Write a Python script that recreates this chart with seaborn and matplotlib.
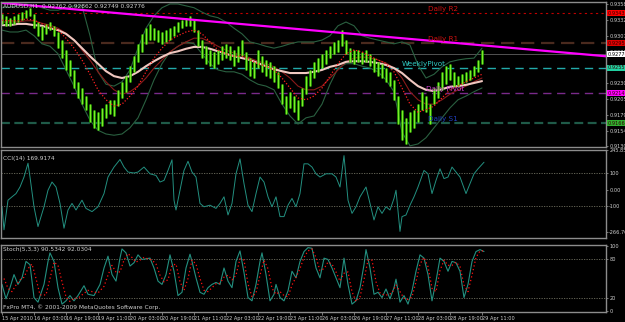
import numpy as np
import pandas as pd
import seaborn as sns
import matplotlib
matplotlib.use("Agg")
import matplotlib.pyplot as plt

# ---------------- data ----------------
header = "AUDUSD,H1  0.92762 0.92862 0.92749 0.92776"
cci_title = "CCI(14) 169.9174"
stoch_title = "Stoch(5,3,3) 90.5342 92.0304"
copyright_txt = "FxPro MT4, \u00a9 2001-2009 MetaQuotes Software Corp."

date_labels = ["15 Apr 2010", "16 Apr 03:00", "16 Apr 19:00", "19 Apr 11:00", "20 Apr 03:00",
               "20 Apr 19:00", "21 Apr 11:00", "22 Apr 03:00", "22 Apr 19:00", "23 Apr 11:00",
               "26 Apr 03:00", "26 Apr 19:00", "27 Apr 11:00", "28 Apr 03:00", "28 Apr 19:00",
               "29 Apr 11:00"]

# price bars sampled every 2 hourly bars (bar 0..240)
price_high = [.9342, .9339, .9336, .9339, .9342, .9345, .9348, .9352, .9342, .9329,
              .9323, .9326, .9329, .9323, .9313, .9300, .9284, .9268, .9252, .9233,
              .9223, .9210, .9197, .9188, .9184, .9191, .9197, .9204, .9204, .9220,
              .9233, .9242, .9258, .9274, .9294, .9310, .9319, .9326, .9319, .9316,
              .9313, .9316, .9319, .9323, .9329, .9332, .9336, .9339, .9332, .9316,
              .9300, .9290, .9284, .9281, .9284, .9290, .9294, .9290, .9284, .9290,
              .9300, .9281, .9271, .9265, .9284, .9274, .9268, .9265, .9258, .9249,
              .9229, .9210, .9217, .9210, .9204, .9223, .9242, .9252, .9265, .9271,
              .9278, .9284, .9290, .9297, .9300, .9316, .9300, .9287, .9284, .9284,
              .9281, .9284, .9278, .9271, .9265, .9262, .9255, .9249, .9236, .9210,
              .9188, .9175, .9184, .9188, .9197, .9217, .9210, .9197, .9223, .9233,
              .9249, .9258, .9262, .9249, .9242, .9245, .9249, .9252, .9258, .9268,
              .9284]
price_low = [.9326, .9323, .9323, .9326, .9329, .9332, .9336, .9339, .9319, .9307,
             .9300, .9310, .9316, .9307, .9287, .9271, .9252, .9242, .9223, .9207,
             .9197, .9188, .9168, .9159, .9155, .9162, .9175, .9181, .9178, .9194,
             .9207, .9217, .9233, .9249, .9265, .9281, .9294, .9300, .9300, .9297,
             .9294, .9297, .9300, .9307, .9313, .9319, .9323, .9323, .9313, .9290,
             .9271, .9262, .9258, .9255, .9262, .9268, .9271, .9268, .9258, .9265,
             .9274, .9252, .9242, .9239, .9255, .9249, .9242, .9239, .9233, .9223,
             .9197, .9181, .9191, .9184, .9171, .9194, .9213, .9226, .9239, .9249,
             .9255, .9262, .9271, .9278, .9281, .9290, .9278, .9265, .9262, .9265,
             .9262, .9265, .9258, .9249, .9242, .9239, .9233, .9226, .9204, .9165,
             .9139, .9133, .9152, .9159, .9168, .9188, .9184, .9165, .9197, .9207,
             .9220, .9229, .9236, .9226, .9226, .9229, .9233, .9236, .9242, .9249,
             .9262]

# indicator lines sampled every 4 bars (bar 0..240)
ma_slow = [.9324, .9324, .9326, .9326, .9324, .9323, .9319, .9316, .9310, .9300,
           .9287, .9274, .9262, .9250, .9242, .9239, .9242, .9249, .9258, .9266,
           .9273, .9279, .9282, .9286, .9289, .9289, .9286, .9282, .9278, .9274,
           .9271, .9268, .9263, .9258, .9253, .9250, .9247, .9247, .9247, .9249,
           .9252, .9257, .9260, .9265, .9266, .9266, .9265, .9263, .9260, .9255,
           .9247, .9236, .9226, .9220, .9218, .9221, .9225, .9226, .9228, .9231,
           .9234]
ma_fast = [.9332, .9331, .9331, .9334, .9332, .9326, .9321, .9316, .9303, .9287,
           .9268, .9245, .9220, .9204, .9194, .9197, .9210, .9226, .9249, .9271,
           .9287, .9300, .9307, .9313, .9316, .9310, .9297, .9284, .9278, .9274,
           .9274, .9268, .9262, .9258, .9252, .9239, .9223, .9207, .9204, .9210,
           .9223, .9242, .9262, .9278, .9284, .9281, .9274, .9268, .9262, .9249,
           .9223, .9197, .9184, .9188, .9194, .9207, .9220, .9226, .9233, .9239,
           .9245]
ma_mid = [.9329, .9329, .9329, .9331, .9331, .9327, .9324, .9319, .9311, .9300,
          .9284, .9268, .9249, .9233, .9220, .9213, .9217, .9226, .9239, .9255,
          .9268, .9281, .9290, .9297, .9303, .9303, .9297, .9290, .9284, .9279,
          .9276, .9271, .9266, .9262, .9257, .9249, .9239, .9226, .9220, .9220,
          .9226, .9239, .9252, .9265, .9271, .9273, .9271, .9268, .9263, .9255,
          .9239, .9217, .9204, .9197, .9197, .9204, .9213, .9220, .9226, .9233,
          .9239]
band_upper = [.9352, .9353, .9355, .9358, .9356, .9352, .9348, .9348, .9352, .9355,
              .9355, .9307, .9249, .9229, .9226, .9233, .9252, .9287, .9319, .9339,
              .9352, .9358, .9358, .9355, .9352, .9345, .9339, .9336, .9329, .9319,
              .9310, .9297, .9294, .9290, .9287, .9290, .9294, .9297, .9297, .9297,
              .9300, .9307, .9323, .9329, .9323, .9307, .9303, .9300, .9297, .9294,
              .9297, .9292, .9260, .9239, .9245, .9257, .9265, .9268, .9270, .9271,
              .9287]
band_lower = [.9316, .9313, .9313, .9316, .9307, .9294, .9290, .9278, .9252, .9226,
              .9197, .9171, .9155, .9149, .9147, .9149, .9159, .9175, .9204, .9236,
              .9262, .9281, .9290, .9297, .9294, .9278, .9262, .9252, .9249, .9249,
              .9245, .9236, .9229, .9226, .9220, .9197, .9178, .9165, .9175, .9178,
              .9197, .9229, .9255, .9262, .9262, .9258, .9255, .9249, .9236, .9217,
              .9152, .9130, .9133, .9143, .9159, .9175, .9191, .9204, .9210, .9217,
              .9223]

trend_bars = [-1, 302]
trend_price = [0.9360, 0.9274]

level_names = ["Daily R2", "Daily R1", "WeeklyPivot", "Daily Pivot", "Daily S1"]
level_values = [0.93435, 0.92952, 0.92551, 0.92149, 0.91666]
last_price = 0.92776

price_ticks = [0.93580, 0.93325, 0.93070, 0.92815, 0.92560, 0.92305, 0.92050, 0.91795, 0.91540, 0.91300]

cci_bars = [0, 1, 3, 5, 7, 9, 11, 13, 14, 16, 18, 21, 23, 25, 27, 29, 31, 33, 35, 37, 40, 42, 45, 48,
            51, 53, 56, 59, 61, 63, 66, 68, 71, 74, 77, 79, 81, 83, 85, 86, 87, 89, 91, 93, 95, 97,
            99, 101, 104, 107, 109, 111, 113, 115, 117, 119, 121, 123, 125, 127, 129, 131, 133, 135,
            137, 139, 141, 143, 145, 147, 149, 151, 153, 155, 157, 159, 162, 165, 167, 169, 171, 173,
            175, 177, 179, 182, 184, 186, 188, 190, 192, 194, 196, 197, 199, 200, 202, 204, 206, 208,
            211, 213, 215, 217, 219, 221, 223, 225, 227, 229, 232, 234, 236, 238, 241]
cci_vals = [-107, -250, -66, -45, -25, 16, 78, 164, 78, -107, -230, -107, -4, 47, 16, -86, -240, -127,
            -86, -127, -66, -117, -137, -107, -25, 78, 140, 187, 140, 109, 103, 109, 140, 98, 88, 47,
            57, 119, 185, -66, -127, -4, 119, 176, 109, 78, -86, -107, -97, -117, -86, -45, -158, -86,
            98, 191, 37, -97, -137, -25, 78, 47, -45, -107, -45, -168, -168, -97, -55, -107, -25, 160,
            160, 140, 98, 78, 98, 98, 78, 16, 211, -66, -148, -107, -45, 16, -86, -189, -107, -148,
            -107, -127, -55, -4, -260, -168, -158, -97, -45, 16, 119, 98, -25, 57, 129, 68, 78, 140,
            109, 78, -25, 37, 98, 129, 170]

stoch_k_bars = [0, 2, 4, 6, 8, 10, 12, 14, 16, 18, 21, 23, 24, 26, 28, 30, 32, 34, 36, 38, 41, 43, 46,
                49, 51, 53, 55, 57, 59, 60, 62, 64, 66, 68, 70, 72, 74, 76, 78, 80, 82, 84, 86, 88, 90,
                92, 94, 95, 97, 99, 101, 103, 105, 107, 109, 111, 113, 115, 117, 119, 121, 123, 125,
                127, 129, 130, 132, 134, 136, 137, 139, 141, 143, 145, 147, 149, 151, 153, 155, 157,
                159, 161, 163, 165, 167, 169, 171, 173, 175, 177, 179, 181, 182, 184, 186, 188, 190,
                192, 194, 196, 197, 199, 201, 203, 205, 207, 209, 211, 213, 215, 217, 219, 221, 223,
                225, 227, 229, 231, 233, 235, 237, 239, 241]
stoch_k = [41, 19, 36, 56, 41, 51, 76, 71, 21, 14, 41, 76, 89, 76, 36, 11, 16, 24, 16, 24, 39, 26, 24,
           41, 66, 84, 56, 46, 81, 95, 89, 69, 74, 86, 79, 80, 81, 66, 46, 41, 56, 86, 61, 24, 29,
           66, 87, 76, 51, 29, 26, 36, 41, 44, 41, 66, 46, 36, 76, 92, 59, 21, 16,
           41, 76, 89, 56, 16, 26, 41, 21, 16, 31, 61, 51, 76, 91, 97, 96, 66,
           51, 81, 79, 66, 51, 36, 81, 41, 11, 16, 36, 71, 94, 66, 26, 29, 21,
           34, 19, 36, 49, 14, 24, 11, 31, 61, 86, 81, 56, 16, 46, 81, 76, 61,
           76, 74, 61, 21, 41, 76, 91, 94, 91]
stoch_d_bars = [1, 3, 5, 7, 9, 11, 13, 15, 17, 19, 22, 24, 26, 28, 30, 32, 34, 36, 38, 40, 43, 45, 48,
                51, 53, 55, 57, 59, 61, 63, 65, 67, 69, 71, 73, 75, 77, 79, 81, 83, 85, 87, 89, 91, 93,
                95, 97, 99, 101, 103, 105, 107, 109, 111, 113, 115, 117, 119, 121, 123, 125, 127, 129,
                131, 133, 135, 137, 139, 141, 143, 145, 147, 149, 151, 153, 155, 157, 159, 161, 163,
                165, 167, 169, 171, 173, 175, 177, 179, 181, 183, 185, 187, 189, 191, 193, 195, 197,
                199, 201, 203, 205, 207, 209, 211, 213, 215, 217, 219, 221, 223, 225, 227, 229, 231,
                233, 235, 237, 239, 241]
stoch_d = [50, 35, 30, 40, 48, 52, 65, 72, 50, 25, 25, 50, 75, 70, 45, 22, 15, 20, 20, 25, 32, 30, 28,
           38, 55, 70, 60, 60, 78, 88, 82, 75, 78, 82, 80, 78, 72, 55, 45, 48, 70, 72, 45, 32, 50,
           78, 72, 50, 32, 30, 36, 42, 43, 52, 55, 48, 55, 80, 78, 42, 22, 28, 55,
           78, 65, 35, 26, 30, 24, 22, 40, 52, 65, 82, 92, 95, 82, 62, 65, 75,
           72, 60, 46, 58, 60, 30, 15, 22, 48, 78, 78, 45, 28, 25, 25, 28, 40,
           30, 20, 18, 22, 45, 72, 82, 68, 35, 30, 62, 78, 70, 70, 75, 68, 40,
           30, 55, 82, 92, 92]

price_bars = list(range(0, 241, 2))
line_bars = list(range(0, 241, 4))
date_bars = list(range(0, 241, 16))

# ---------------- style ----------------
sns.set_style("dark", {"axes.facecolor": "black", "figure.facecolor": "black"})
plt.rcParams["font.family"] = ["DejaVu Sans"]

W, H = 625, 322
fig = plt.figure(figsize=(W / 100, H / 100), dpi=100, facecolor="black")

def px_axes(top, bottom, left=1, right=606):
    return fig.add_axes([left / W, 1 - bottom / H, (right - left) / W, (bottom - top) / H])

ax_p = px_axes(2, 147)
ax_c = px_axes(150, 238)
ax_s = px_axes(245, 312)

FRAME = "#8c8c8c"
TXT = "#d0d0d0"
FS = 4.2
FS_AX = 3.6
for ax in (ax_p, ax_c, ax_s):
    ax.set_facecolor("black")
    ax.grid(False)
    for s in ax.spines.values():
        s.set_color(FRAME)
        s.set_linewidth(1.0)
    ax.set_xlim(-0.5, 302)
    ax.yaxis.tick_right()
    ax.tick_params(axis="y", colors=FRAME, labelcolor=TXT, labelsize=FS_AX, length=1.5, width=0.6, pad=0.8)
    ax.tick_params(axis="x", bottom=False, labelbottom=False)
    ax.set_xlabel("")
    ax.set_ylabel("")

# ---------------- main price panel ----------------
ax_p.set_ylim(0.91281, 0.93612)

# pivot levels
ax_p.axhline(level_values[0], color="#c00000", lw=0.8, ls=(0, (2, 3)))
ax_p.axhline(level_values[1], color="#4a2a1e", lw=1.6, ls=(0, (6, 3)))
ax_p.axhline(level_values[2], color="#22aaaa", lw=1.0, ls=(0, (6, 4)))
ax_p.axhline(level_values[3], color="#7a2a8a", lw=1.0, ls=(0, (6, 4)))
ax_p.axhline(level_values[4], color="#1f5a48", lw=1.6, ls=(0, (4, 2)))
ax_p.axhline(last_price, color="#606060", lw=0.6)

# bollinger bands and moving averages
sns.lineplot(x=line_bars, y=band_upper, ax=ax_p, color="#2a6040", lw=0.8)
sns.lineplot(x=line_bars, y=band_lower, ax=ax_p, color="#2a6040", lw=0.8)
sns.lineplot(x=line_bars, y=ma_mid, ax=ax_p, color="#8b1a1a", lw=0.8)
sns.lineplot(x=line_bars, y=ma_slow, ax=ax_p, color="#f0c8c0", lw=1.5)

# price bars
ax_p.vlines(price_bars, price_low, price_high, color="#2ab800", lw=1.8)
ax_p.vlines(price_bars, price_low, price_high, color="#a8ff40", lw=0.5)

sns.lineplot(x=line_bars, y=ma_fast, ax=ax_p, color="#ff2020", lw=0.9, linestyle=(0, (1, 1.5)))

# trend line
sns.lineplot(x=trend_bars, y=trend_price, ax=ax_p, color="#ff00ff", lw=1.6)
ax_p.set_xlim(-0.5, 302)
ax_p.set_ylim(0.91281, 0.93612)

label_pos = [(213, "#d01010"), (213, "#d01010"), (200, "#30c8c0"), (212, "#d040d0"), (213, "#2040c0")]
for name, val, (bx, col) in zip(level_names, level_values, label_pos):
    ax_p.text(bx, val + 0.00022, name, color=col, fontsize=5.2, ha="left", va="bottom")

ax_p.set_yticks(price_ticks)
ax_p.set_yticklabels([f"{v:.5f}" for v in price_ticks])

box_cols = ["#ff0000", "#e00000", "#20d0a0", "#ff00ff", "#30b030"]
for val, col in zip(level_values, box_cols):
    ax_p.text(1.003, val, f"{val:.5f}", transform=ax_p.get_yaxis_transform(), fontsize=FS_AX,
              color="#300000", ha="left", va="center",
              bbox=dict(boxstyle="square,pad=0.12", fc=col, ec="none"))
ax_p.text(1.003, last_price, f"{last_price:.5f}", transform=ax_p.get_yaxis_transform(), fontsize=FS_AX,
          color="black", ha="left", va="center",
          bbox=dict(boxstyle="square,pad=0.12", fc="white", ec="none"))

ax_p.text(0.004, 0.985, header, transform=ax_p.transAxes, color=TXT, fontsize=FS, ha="left", va="top")

# ---------------- CCI panel ----------------
ax_c.set_ylim(-301, 246)
ax_c.axhline(100, color="#707060", lw=0.6, ls=(0, (1.5, 1.5)))
ax_c.axhline(-100, color="#707060", lw=0.6, ls=(0, (1.5, 1.5)))
sns.lineplot(x=cci_bars, y=cci_vals, ax=ax_c, color="#239080", lw=0.7)
ax_c.set_xlim(-0.5, 302)
ax_c.set_ylim(-301, 246)
cci_ticks = [245.855, 100, 0, -100, -266.76]
ax_c.set_yticks(cci_ticks)
ax_c.set_yticklabels(["245.855", "100", "0.00", "-100", "-266.76"])
ax_c.text(0.004, 0.93, cci_title, transform=ax_c.transAxes, color=TXT, fontsize=FS, ha="left", va="top")

# ---------------- Stochastic panel ----------------
ax_s.set_ylim(-1, 101)
ax_s.axhline(80, color="#707060", lw=0.6, ls=(0, (1.5, 1.5)))
ax_s.axhline(20, color="#707060", lw=0.6, ls=(0, (1.5, 1.5)))
sns.lineplot(x=stoch_k_bars, y=stoch_k, ax=ax_s, color="#239080", lw=0.8)
sns.lineplot(x=stoch_d_bars, y=stoch_d, ax=ax_s, color="#ff1010", lw=0.9, linestyle=(0, (1, 2)))
ax_s.set_xlim(-0.5, 302)
ax_s.set_ylim(-1, 101)
ax_s.set_yticks([100, 80, 20, 0])
ax_s.set_yticklabels(["100", "80", "20", "0"])
ax_s.text(0.004, 0.97, stoch_title, transform=ax_s.transAxes, color=TXT, fontsize=FS, ha="left", va="top")
ax_s.text(0.004, 0.03, copyright_txt, transform=ax_s.transAxes, color=TXT, fontsize=FS, ha="left", va="bottom")

ax_s.set_xticks(date_bars)
ax_s.set_xticklabels(date_labels)
ax_s.tick_params(axis="x", bottom=True, labelbottom=True, colors=FRAME, labelcolor=TXT,
                 labelsize=3.6, length=2, width=0.6, pad=1)
for lab in ax_s.get_xticklabels():
    lab.set_horizontalalignment("left")

fig.savefig("out.png", dpi=100, facecolor="black")
